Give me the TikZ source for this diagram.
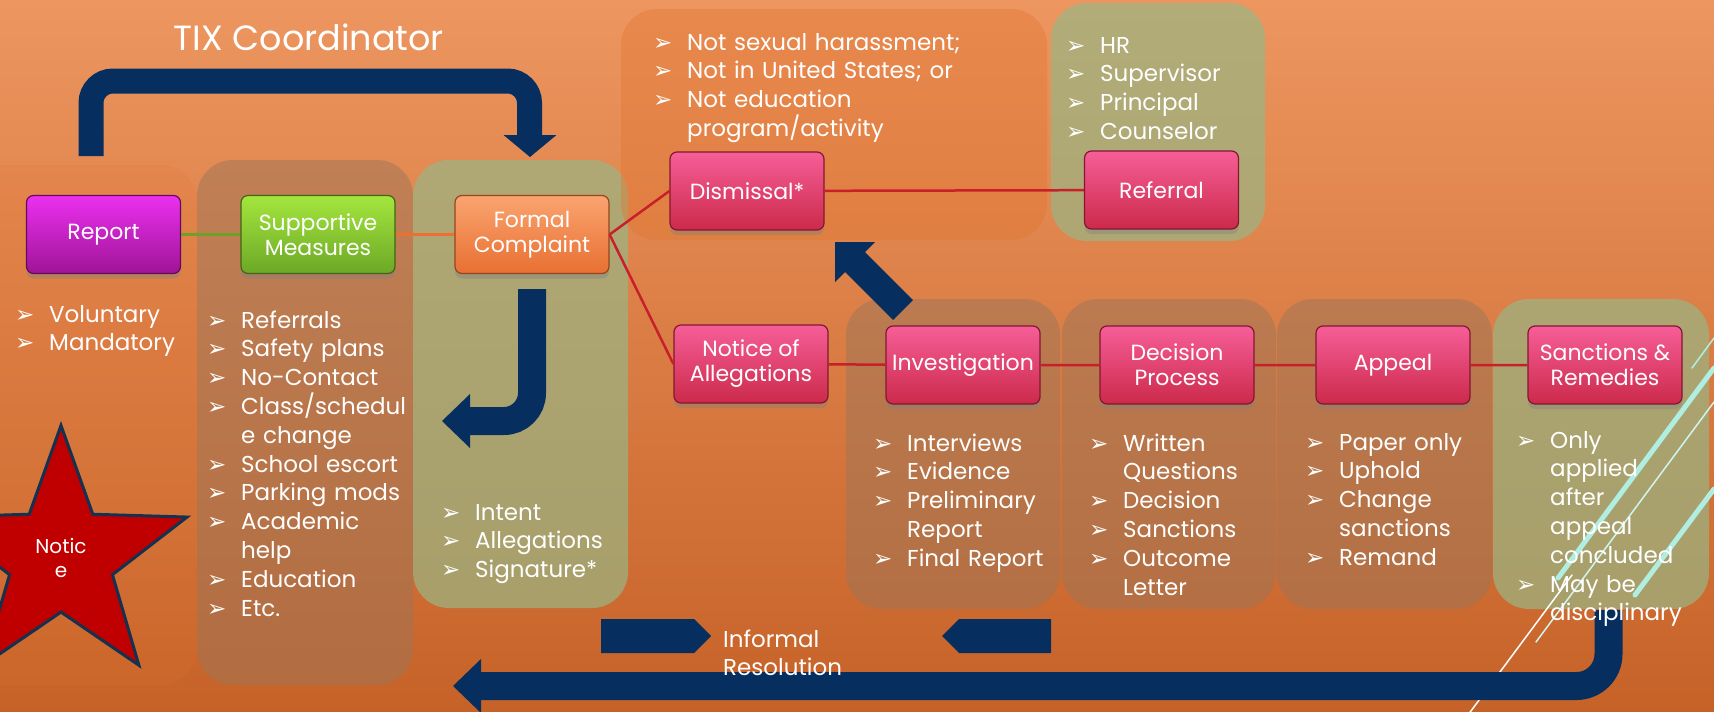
\documentclass[tikz,border=0pt]{standalone}
\usepackage{fontspec}
\setmainfont{Poppins}
\newfontfamily\dingfont{DejaVu Sans}
\usetikzlibrary{shapes.geometric,shadows,positioning}

\definecolor{bgtop}{RGB}{237,150,96}
\definecolor{bgbot}{RGB}{198,98,40}
\definecolor{panelorange}{RGB}{226,118,50}
\definecolor{panelbrown}{RGB}{157,118,88}
\definecolor{panelolive}{RGB}{153,182,132}
\definecolor{pinktop}{RGB}{246,94,152}
\definecolor{pinkbot}{RGB}{204,42,74}
\definecolor{pinkedge}{RGB}{130,24,48}
\definecolor{magtop}{RGB}{236,48,240}
\definecolor{magbot}{RGB}{158,20,150}
\definecolor{magedge}{RGB}{100,10,90}
\definecolor{greentop}{RGB}{164,230,62}
\definecolor{greenbot}{RGB}{108,168,38}
\definecolor{greenedge}{RGB}{70,100,20}
\definecolor{ortop}{RGB}{250,164,112}
\definecolor{orbot}{RGB}{232,112,50}
\definecolor{oredge}{RGB}{150,70,30}
\definecolor{navy}{RGB}{6,46,94}
\definecolor{linkred}{RGB}{200,32,42}
\definecolor{linkgreen}{RGB}{110,160,40}
\definecolor{linkorange}{RGB}{236,112,48}
\definecolor{starred}{RGB}{192,0,0}
\definecolor{staredge}{RGB}{20,50,80}
\definecolor{decocyan}{RGB}{176,238,226}

\newcommand{\arrowbullet}{\makebox[34pt][l]{\dingfont\fontsize{23}{23}\selectfont ➢}}
\newcommand{\wrapline}{\hspace*{34pt}}

\begin{document}
\begin{tikzpicture}[x=1pt,y=-1pt,
  every node/.style={text=white},
  panel/.style={rounded corners=36},
  orangepanel/.style={panel,fill=panelorange,fill opacity=0.4},
  brownpanel/.style={panel,fill=panelbrown,fill opacity=0.5},
  olivepanel/.style={panel,fill=panelolive,fill opacity=0.7},
  stepbox/.style={rounded corners=7,minimum width=154,minimum height=78,inner sep=2,
    align=center,font=\fontsize{22}{25}\selectfont,line width=1.2,
    drop shadow={shadow xshift=0pt,shadow yshift=-5pt,opacity=0.4}},
  pinkbox/.style={stepbox,top color=pinktop,bottom color=pinkbot,draw=pinkedge},
  listtext/.style={anchor=base west,inner sep=0,text width=#1,align=left,
    font=\fontsize{23}{28.8}\selectfont},
  link/.style={line width=2.5,draw=linkred},
  bigarrow/.style={line width=28,draw=navy},
  deco/.style={line cap=round}
]
\useasboundingbox (0,0) rectangle (1714,712);
\clip (0,0) rectangle (1714,712);
\fill[top color=bgtop,bottom color=bgbot] (0,0) rectangle (1714,712);

\fill[orangepanel,fill opacity=0.18] (-36,165) rectangle (197,685);
\fill[brownpanel] (197,160) rectangle (413,685);
\fill[olivepanel] (413,160) rectangle (628,608);
\fill[orangepanel] (621,9) rectangle (1047,240);
\fill[olivepanel] (1051,3) rectangle (1265,241);
\fill[brownpanel] (846,299) rectangle (1060,609);
\fill[brownpanel] (1062,299) rectangle (1276,609);
\fill[brownpanel] (1277,299) rectangle (1492,609);
\fill[olivepanel] (1493,299) rectangle (1709,609);

\draw[deco,white,line width=1.5] (1465,719) -- (1572,575);
\draw[deco,decocyan!60!white,line width=1.5] (1536,642) -- (1714,402);
\draw[deco,decocyan,line width=5] (1558,578) -- (1714,368);
\draw[deco,decocyan,line width=5] (1635,595) -- (1714,489);
\draw[deco,decocyan,line width=1.5] (1692,368) -- (1714,338);

\draw[bigarrow,line width=25,rounded corners=22] (91,156) -- (91,81) -- (529.5,81) -- (529.5,136);
\fill[navy] (503.5,135) -- (556.5,135) -- (530,157) -- cycle;
\draw[bigarrow,rounded corners=28] (532,289) -- (532,421) -- (469,421);
\fill[navy] (470,394) -- (442,421) -- (470,448) -- cycle;
\draw[bigarrow] (903,310) -- (853,260);
\fill[navy] (875,242) -- (835,242) -- (835,282) -- cycle;
\fill[navy] (601,619) -- (694,619) -- (711,636) -- (694,653) -- (601,653) -- cycle;
\fill[navy] (1051,619) -- (959,619) -- (942,636) -- (959,653) -- (1051,653) -- cycle;
\draw[bigarrow,rounded corners=32] (1608.5,610) -- (1608.5,686) -- (480,686);
\fill[navy] (481,659) -- (453,686) -- (481,713) -- cycle;

\node[font=\fontsize{35}{40}\selectfont,anchor=base] (coordinator) at (309,50) {TIX Coordinator};

\node[stepbox,top color=magtop,bottom color=magbot,draw=magedge] (report) at (103.5,234.5) {Report};
\node[stepbox,top color=greentop,bottom color=greenbot,draw=greenedge] (supportive) at (318,234.5) {Supportive\\Measures};
\node[stepbox,top color=ortop,bottom color=orbot,draw=oredge] (formal) at (532,234.5) {Formal\\Complaint};
\node[pinkbox] (dismissal) at (747,191) {Dismissal*};
\node[pinkbox] (referral) at (1161.5,190) {Referral};
\node[pinkbox] (notice) at (751,364) {Notice of\\Allegations};
\node[pinkbox] (investigation) at (963,365) {Investigation};
\node[pinkbox] (decision) at (1177,365) {Decision\\Process};
\node[pinkbox] (appeal) at (1393,365) {Appeal};
\node[pinkbox] (sanctions) at (1605,365) {Sanctions \&\\Remedies};

\draw[link,draw=linkgreen] (report) -- (supportive);
\draw[link,draw=linkorange] (supportive) -- (formal);
\draw[link] (formal.east) -- (dismissal.west);
\draw[link] (formal.east) -- (notice.west);
\draw[link] (dismissal) -- (referral);
\draw[link] (notice) -- (investigation) -- (decision) -- (appeal) -- (sanctions);

\node[listtext=180] (reportlist) at (15,322) {\arrowbullet Voluntary\\\arrowbullet Mandatory};
\node[listtext=210] (supportlist) at (207,328) {\arrowbullet Referrals\\\arrowbullet Safety plans\\\arrowbullet No-Contact\\\arrowbullet Class/schedul\\\wrapline e change\\\arrowbullet School escort\\\arrowbullet Parking mods\\\arrowbullet Academic\\\wrapline help\\\arrowbullet Education\\\arrowbullet Etc.};
\node[listtext=185] (formallist) at (441,520) {\arrowbullet Intent\\\arrowbullet Allegations\\\arrowbullet Signature*};
\node[listtext=380] (dismisslist) at (653,50) {\arrowbullet Not sexual harassment;\\\arrowbullet Not in United States; or\\\arrowbullet Not education\\\wrapline program/activity};
\node[listtext=190] (referlist) at (1066,53) {\arrowbullet HR\\\arrowbullet Supervisor\\\arrowbullet Principal\\\arrowbullet Counselor};
\node[listtext=190] (investlist) at (873,451) {\arrowbullet Interviews\\\arrowbullet Evidence\\\arrowbullet Preliminary\\\wrapline Report\\\arrowbullet Final Report};
\node[listtext=190] (decidelist) at (1089,451) {\arrowbullet Written\\\wrapline Questions\\\arrowbullet Decision\\\arrowbullet Sanctions\\\arrowbullet Outcome\\\wrapline Letter};
\node[listtext=190] (appeallist) at (1305,450) {\arrowbullet Paper only\\\arrowbullet Uphold\\\arrowbullet Change\\\wrapline sanctions\\\arrowbullet Remand};
\node[listtext=190] (sanctionlist) at (1516,448) {\arrowbullet Only\\\wrapline applied\\\wrapline after\\\wrapline appeal\\\wrapline concluded\\\arrowbullet May be\\\wrapline disciplinary};

\node[listtext=160,font=\fontsize{23}{28}\selectfont] (informal) at (723,647) {Informal\\Resolution};

\node[star,star points=5,star point ratio=2.45,minimum size=265,inner sep=0,fill=starred,draw=staredge,line width=3,align=center,font=\fontsize{20}{24}\selectfont] (noticestar) at (61,558) {Notic\\e};
\end{tikzpicture}
\end{document}
